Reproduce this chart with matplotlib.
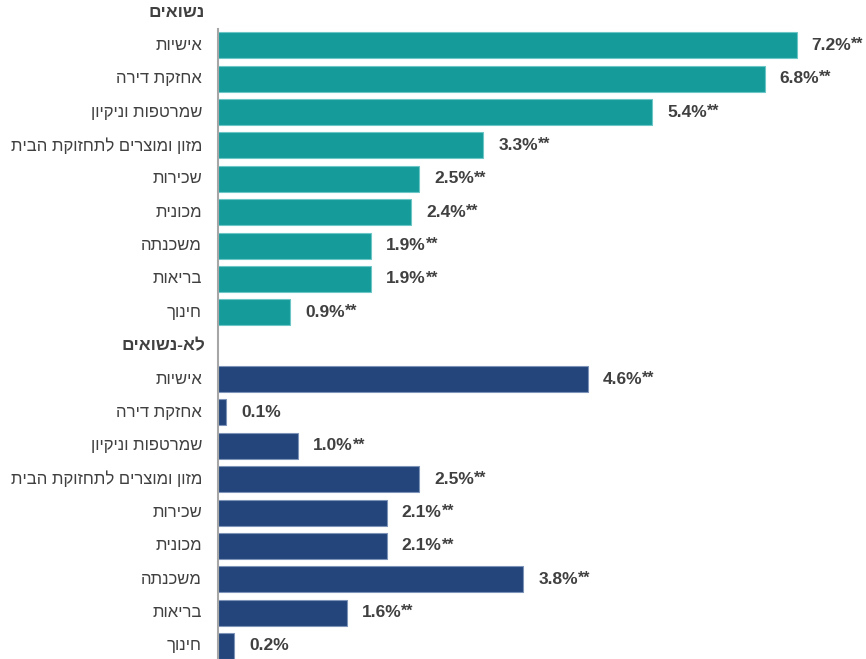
import matplotlib.pyplot as plt

# ------------------ Data ------------------
categories = ["אישיות", "אחזקת דירה", "שמרטפות וניקיון", "מזון ומוצרים לתחזוקת הבית",
              "שכירות", "מכונית", "משכנתה", "בריאות", "חינוך"]
married_vals = [7.2, 6.8, 5.4, 3.3, 2.5, 2.4, 1.9, 1.9, 0.9]
married_sig = [True, True, True, True, True, True, True, True, True]
single_vals = [4.6, 0.1, 1.0, 2.5, 2.1, 2.1, 3.8, 1.6, 0.2]
single_sig = [True, False, True, True, True, True, True, True, False]
groups = ["נשואים", "לא-נשואים"]

TEAL = "#169b9b"
NAVY = "#23457b"
TXT = "#404040"


def rtl(s):
    # matplotlib has no bidi support, so flip the Hebrew strings
    return s[::-1]


plt.rcParams["font.family"] = ["Liberation Sans", "DejaVu Sans"]

fig = plt.figure(figsize=(8.66, 6.59), dpi=100)
ax = fig.add_axes([218 / 866, 0, 643 / 866, 1])

n = len(categories)
series = [(married_vals, married_sig, TEAL, "#6cc6c6"),
          (single_vals, single_sig, NAVY, "#7d93b8")]

for g, (vals, sig, col, edge) in enumerate(series):
    base = g * (n + 1)
    # group header
    ax.annotate(rtl(groups[g]), xy=(0, base), xycoords=("axes fraction", "data"),
                xytext=(-13, 0), textcoords="offset pixels", ha="right", va="center",
                fontsize=12.5, fontweight="bold", color=TXT)
    ys = [base + 1 + i for i in range(n)]
    ax.barh(ys, vals, height=0.78, color=col, edgecolor=edge, linewidth=0.8)
    for y, v, s, c in zip(ys, vals, sig, categories):
        ax.annotate(rtl(c), xy=(0, y), xycoords=("axes fraction", "data"),
                    xytext=(-16, 0), textcoords="offset pixels", ha="right", va="center",
                    fontsize=12, color=TXT)
        t = ax.annotate(f"{v:.1f}%", xy=(v, y), xytext=(15, 0), textcoords="offset pixels",
                        ha="left", va="center", fontsize=12.5, fontweight="bold", color=TXT)
        if s:
            ax.annotate("**", xy=(1, 1), xycoords=t, xytext=(0, 1), textcoords="offset pixels",
                        ha="left", va="top", fontsize=11.5, fontweight="bold", color=TXT)

ax.set_xlim(0, 8)
ax.set_ylim(19.39, -0.36)
ax.set_xticks([])
ax.set_yticks([])
for side in ["top", "right", "bottom"]:
    ax.spines[side].set_visible(False)
ax.spines["left"].set_bounds(0.5, 19.39)
ax.spines["left"].set_color("#a6a6a6")
ax.spines["left"].set_linewidth(1.5)

fig.savefig("out.png", dpi=100)
